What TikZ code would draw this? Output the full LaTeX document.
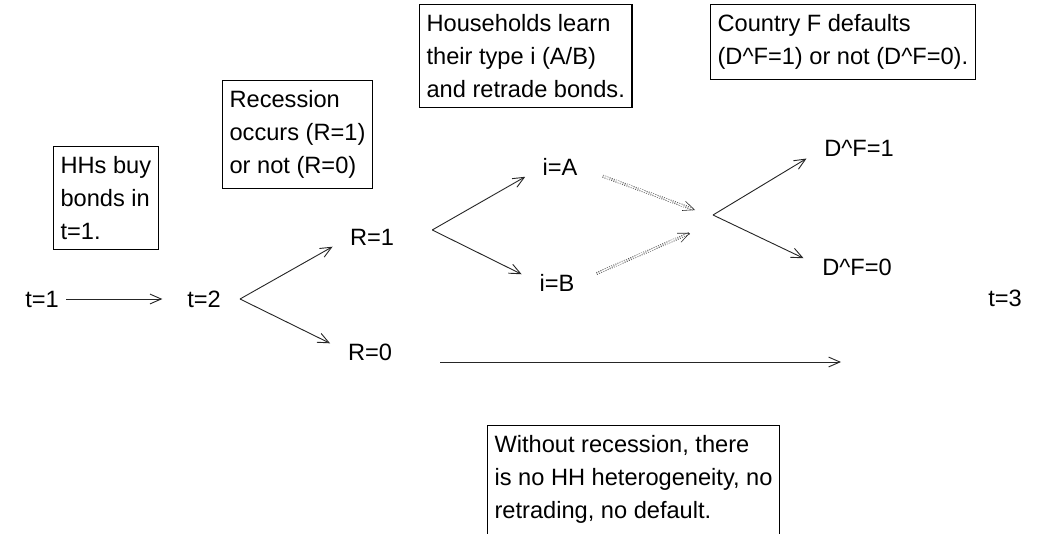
\documentclass[tikz,border=0pt]{standalone}
\usepackage{fontspec}
\setmainfont{Liberation Sans}
\usetikzlibrary{arrows.meta}
\tikzset{every picture/.style={/utils/exec={\fontsize{16.8pt}{23.5pt}\selectfont}}}
\tikzset{
  arr/.style={-{Straight Barb[length=8pt,width=7pt]}, line width=0.65pt, black!85},
  retrade/.style={arr, densely dotted, double, double distance=1.2pt, line width=0.4pt},
  note/.style={draw, line width=0.8pt, align=left, anchor=north west, inner xsep=5pt, inner ysep=7pt},
  stage/.style={inner sep=0pt}
}

\begin{document}
\begin{tikzpicture}[x=0.025cm, y=-0.025cm]
  \useasboundingbox (0,0) rectangle (1045,533);

  % stages and outcomes
  \node [stage] (t1) at (42,299) {t=1};
  \node [stage] (t2) at (204,299) {t=2};
  \node [stage] (R1) at (372,237) {R=1};
  \node [stage] (R0) at (370,352) {R=0};
  \node [stage] (iA) at (560,167) {i=A};
  \node [stage] (iB) at (557,283) {i=B};
  \node [stage] (D1) at (859,148) {D\textasciicircum F=1};
  \node [stage] (D0) at (857,267) {D\textasciicircum F=0};
  \node [stage] (t3) at (1005,298) {t=3};

  \coordinate (forkT) at ([xshift=13.5pt]t2.east);
  \coordinate (forkR) at ([xshift=27pt, yshift=5pt]R1.east);
  \coordinate (forkD) at (713,215);
  \coordinate (joinA) at (695,210);
  \coordinate (joinB) at (690,233);
  \coordinate (noRec) at (841,362);

  \draw [arr, shorten <=5pt, shorten >=17.5pt] (t1.east) -- (t2.west);
  \draw [arr, shorten >=14pt] (forkT) -- (R1.west);
  \draw [arr, shorten >=14pt] (forkT) -- (R0.west);
  \draw [arr, shorten >=14pt] (forkR) -- (iA.west);
  \draw [arr, shorten >=14pt] (forkR) -- (iB.west);
  \draw [retrade, shorten <=19pt] (iA.east) -- (joinA);
  \draw [retrade, shorten <=17pt] (iB.east) -- (joinB);
  \draw [arr, shorten >=14.5pt] (forkD) -- (D1.west);
  \draw [arr, shorten >=14.5pt] (forkD) -- (D0.west);
  \draw [arr, shorten <=34pt] (R0.east |- noRec) -- (noRec);

  % explanations
  \begin{scope}[every node/.style={note}]
    \node (hhs) at (53,146) {HHs buy\\bonds in\\t=1.};
    \node (rec) at (222,80) {Recession\\occurs (R=1)\\or not (R=0)};
    \node (learn) at (419,4) {Households learn\\their type i (A/B)\\and retrade bonds.};
    \node (cty) at (710,4) {Country F defaults\\(D\textasciicircum F=1) or not (D\textasciicircum F=0).};
    \node (norec) at (487,425) {Without recession, there\\is no HH heterogeneity, no\\retrading, no default.\\ \mbox{}};
  \end{scope}

\end{tikzpicture}
\end{document}
